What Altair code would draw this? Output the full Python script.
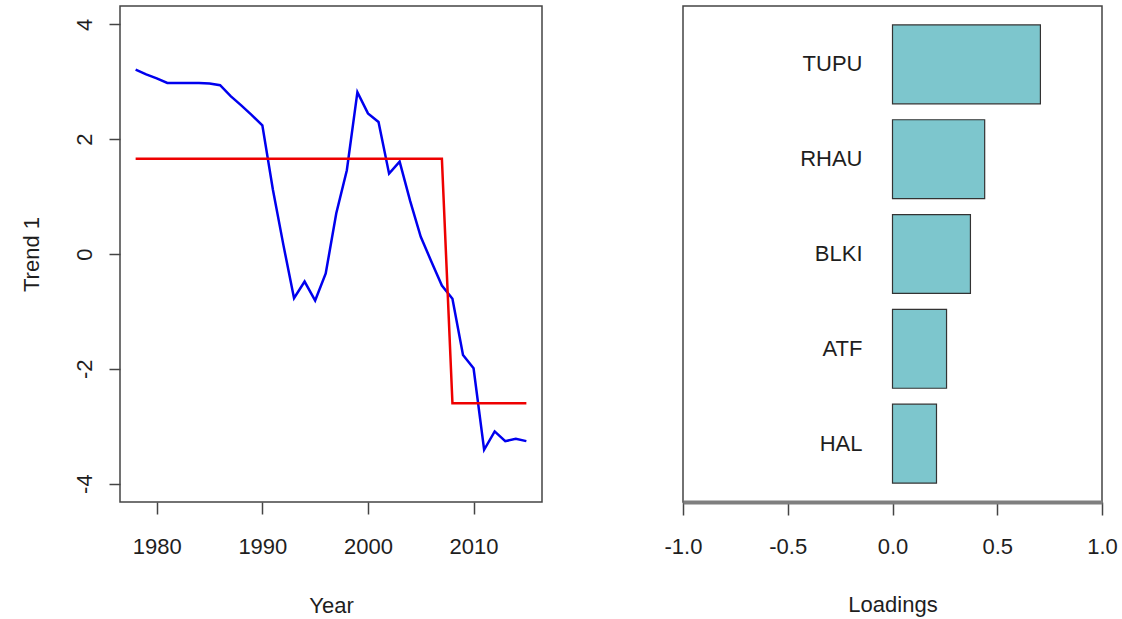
import altair as alt
import pandas as pd

# ---- data ----
years = [1978, 1979, 1980, 1981, 1982, 1983, 1984, 1985, 1986, 1987,
         1988, 1989, 1990, 1991, 1992, 1993, 1994, 1995, 1996, 1997,
         1998, 1999, 2000, 2001, 2002, 2003, 2004, 2005, 2006, 2007,
         2008, 2009, 2010, 2011, 2012, 2013, 2014, 2015]
trend = [3.21, 3.13, 3.06, 2.98, 2.98, 2.98, 2.98, 2.97, 2.94, 2.75,
         2.59, 2.42, 2.24, 1.12, 0.15, -0.77, -0.48, -0.81, -0.34, 0.71,
         1.46, 2.82, 2.45, 2.30, 1.40, 1.61, 0.92, 0.30, -0.13, -0.55,
         -0.78, -1.76, -1.99, -3.41, -3.09, -3.26, -3.22, -3.26]
fit = [1.66] * 30 + [-2.60] * 8

species = ["TUPU", "RHAU", "BLKI", "ATF", "HAL"]
loadings = [0.706, 0.44, 0.372, 0.258, 0.21]

year_ticks = [1980, 1990, 2000, 2010]
trend_ticks = [-4, -2, 0, 2, 4]
load_ticks = [-1.0, -0.5, 0.0, 0.5, 1.0]

FONT = "Liberation Sans"
TXT = "#1e1e1e"
minus_fix = "replace(datum.label, '\u2212', '-')"

rows = []
for yr, v in zip(years, trend):
    rows.append({"Year": yr, "value": v, "series": "trend"})
for yr, v in zip(years, fit):
    rows.append({"Year": yr, "value": v, "series": "fit"})
ts = pd.DataFrame(rows)
bars = pd.DataFrame({"sp": species, "load": loadings})

# ---- left panel ----
x_year = alt.X(
    "Year:Q",
    scale=alt.Scale(domain=[1976.52, 2016.48], nice=False, zero=False),
    axis=alt.Axis(values=year_ticks, format="d", title="Year", tickSize=12,
                  labelPadding=22, titleY=103, titleBaseline="middle",
                  domain=False, grid=False, labelFlush=False),
)
y_trend = alt.Y(
    "value:Q",
    scale=alt.Scale(domain=[-4.32, 4.32], nice=False, zero=False),
    axis=alt.Axis(values=trend_ticks, title="Trend 1", tickSize=11,
                  labelAngle=270, labelAlign="center", labelBaseline="middle",
                  labelPadding=25, labelExpr=minus_fix, labelFlush=False,
                  titleAngle=270, titleX=-89, titleY=248, titleAlign="center",
                  titleBaseline="middle", domain=False, grid=False),
)
blue = alt.Chart(ts).transform_filter(alt.datum.series == "trend").mark_line(
    color="#0000EE", strokeWidth=2.5).encode(x=x_year, y=y_trend)
red = alt.Chart(ts).transform_filter(alt.datum.series == "fit").mark_line(
    color="#EE0000", strokeWidth=2.5).encode(x=x_year, y=y_trend)
left = alt.layer(blue, red).properties(width=422, height=496)

# ---- right panel ----
x_load = alt.X(
    "load:Q",
    scale=alt.Scale(domain=[-1, 1], nice=False, zero=False),
    axis=alt.Axis(values=load_ticks, format=".1f", labelExpr=minus_fix,
                  labelFlush=False, tickSize=13, labelPadding=21,
                  title="Loadings", titleY=102, titleBaseline="middle",
                  domain=True, domainWidth=4, domainColor="#7f7f7f", grid=False),
)
y_sp = alt.Y("sp:N", sort=species, axis=None,
             scale=alt.Scale(paddingInner=0.168, paddingOuter=0.2))
barmark = alt.Chart(bars).mark_bar(fill="#7DC6CD", stroke="#333333",
                                   strokeWidth=1.2).encode(
    x=x_load, x2=alt.datum(0), y=y_sp)
labels = alt.Chart(bars).mark_text(align="right", baseline="middle", dx=-30,
                                   fontSize=22, font=FONT, color=TXT).encode(
    x=alt.datum(0), y=y_sp, text="sp:N")
right = alt.layer(barmark, labels).properties(width=419, height=496)

chart = alt.hconcat(left, right, spacing=141, bounds="flush").configure(
    padding={"left": 19, "top": 5, "right": 0, "bottom": 0},
    font=FONT,
    background="white",
).configure_view(
    stroke="#444444", strokeWidth=1.5
).configure_axis(
    labelFont=FONT, titleFont=FONT, labelFontSize=22, titleFontSize=22,
    labelColor=TXT, titleColor=TXT, titleFontWeight="normal",
    tickColor="#444444", tickWidth=1.5,
)

chart.save("out.html", embed_options={"renderer": "svg", "actions": False})
